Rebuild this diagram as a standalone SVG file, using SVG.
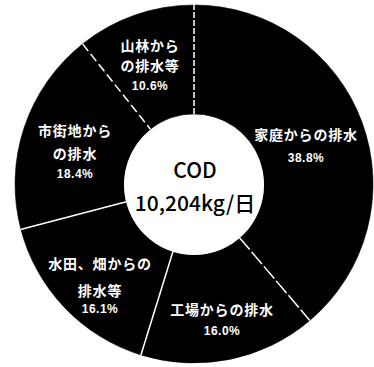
<svg xmlns="http://www.w3.org/2000/svg" width="374" height="367" viewBox="0 0 374 367">
<style>
.seg{fill:#000;stroke:#000;stroke-width:0.6}
.sep{stroke:#fff;stroke-width:1.5;fill:none}
.lbl{fill:#fff;font-family:"Noto Sans CJK JP","Noto Sans",sans-serif;font-size:14px;font-weight:700;text-anchor:middle;letter-spacing:0.8px}
.pct{fill:#fff;font-family:"Liberation Sans","Noto Sans",sans-serif;font-size:12px;font-weight:700;text-anchor:middle;letter-spacing:0.5px}
.ctr{fill:#000;font-family:"Noto Sans CJK JP","Liberation Sans",sans-serif;font-size:21px;font-weight:500;text-anchor:middle}
</style>
<rect width="374" height="367" fill="#fff"/>
<g id="katei">
<path class="seg" d="M194,5 A179,179 0 0 1 309.8,320.5 L239.3,237.4 A70,70 0 0 0 194,114 Z"/>
<text class="lbl" x="306" y="140">家庭からの排水</text>
<text class="pct" x="306" y="162">38.8%</text>
</g>
<g id="kojo">
<path class="seg" d="M309.8,320.5 A179,179 0 0 1 140.8,354.9 L173.2,250.8 A70,70 0 0 0 239.3,237.4 Z"/>
<text class="lbl" x="222" y="315">工場からの排水</text>
<text class="pct" x="222" y="335">16.0%</text>
</g>
<g id="suiden">
<path class="seg" d="M140.8,354.9 A179,179 0 0 1 20.9,229.4 L126.3,201.8 A70,70 0 0 0 173.2,250.8 Z"/>
<text class="lbl" x="100" y="269">水田、畑からの</text>
<text class="lbl" x="100" y="296">排水等</text>
<text class="pct" x="100" y="313">16.1%</text>
</g>
<g id="shigaichi">
<path class="seg" d="M20.9,229.4 A179,179 0 0 1 82.6,43.9 L150.4,129.2 A70,70 0 0 0 126.3,201.8 Z"/>
<text class="lbl" x="75" y="136">市街地から</text>
<text class="lbl" x="75" y="159">の排水</text>
<text class="pct" x="75" y="178">18.4%</text>
</g>
<g id="sanrin">
<path class="seg" d="M82.6,43.9 A179,179 0 0 1 194,5 L194,114 A70,70 0 0 0 150.4,129.2 Z"/>
<text class="lbl" x="150" y="51">山林から</text>
<text class="lbl" x="150" y="71">の排水等</text>
<text class="pct" x="150" y="90">10.6%</text>
</g>
<g id="separators">
<line class="sep" x1="194" y1="4" x2="194" y2="115" stroke-dasharray="6 2"/>
<line class="sep" x1="82.6" y1="43.9" x2="150.4" y2="129.2" stroke-dasharray="9 4"/>
<line class="sep" x1="239.3" y1="237.4" x2="309.8" y2="320.5" stroke-dasharray="16 3"/>
<line class="sep" x1="173.2" y1="250.8" x2="140.8" y2="355.5"/>
<line class="sep" x1="126.3" y1="201.8" x2="20.5" y2="229.5"/>
</g>
<g id="center">
<circle cx="194" cy="185" r="70" fill="#fff"/>
<text class="ctr" x="195" y="178">COD</text>
<text class="ctr" x="195" y="211">10,204kg/日</text>
</g>
</svg>
